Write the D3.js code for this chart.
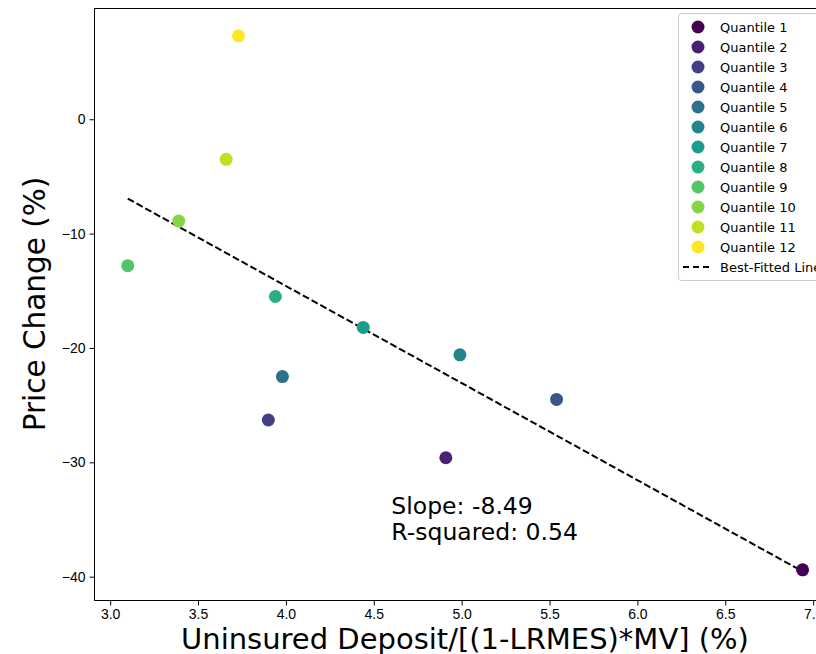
<!DOCTYPE html>
<html>
<head>
  <meta charset="utf-8">
  <title>Price Change vs Uninsured Deposit</title>
  <style>
  body { margin: 0; background: #fff; }
  svg { font-family: "DejaVu Sans", sans-serif; }
  .axis text { font-size: 14px; fill: #000; }
  .axis path, .axis line { stroke: #000; stroke-width: 1; }
  </style>
</head>
<body>
<script src="https://cdnjs.cloudflare.com/ajax/libs/d3/7.8.5/d3.min.js"></script>
<script>
// data
var quantiles = ["Quantile 1", "Quantile 2", "Quantile 3", "Quantile 4", "Quantile 5", "Quantile 6",
                 "Quantile 7", "Quantile 8", "Quantile 9", "Quantile 10", "Quantile 11", "Quantile 12"];
var uninsured = [6.94, 4.91, 3.90, 5.54, 3.98, 4.99, 4.44, 3.94, 3.10, 3.39, 3.66, 3.73];
var priceChange = [-39.4, -29.6, -26.3, -24.5, -22.5, -20.6, -18.2, -15.5, -12.8, -8.9, -3.5, 7.3];
var fitSlope = -8.49, fitIntercept = 19.38, rSquared = 0.54;
var xTicks = [3.0, 3.5, 4.0, 4.5, 5.0, 5.5, 6.0, 6.5, 7.0];
var yTicks = [-40, -30, -20, -10, 0];

// plot box (right edge runs past the window, as in the original)
var W = 816, H = 654;
var box = {left: 94, top: 8, right: 836, bottom: 600};

var svg = d3.select("body").append("svg")
    .attr("width", W)
    .attr("height", H);

var x = d3.scaleLinear().domain([2.908, 7.13]).range([box.left, box.right]);
var y = d3.scaleLinear().domain([-42.04, 9.73]).range([box.bottom, box.top]);

var color = function(i) { return d3.interpolateViridis(i / (quantiles.length - 1)); };

// axes
svg.append("g")
    .attr("class", "axis")
    .attr("transform", "translate(0," + (box.bottom + 0.5) + ")")
    .call(d3.axisBottom(x).tickValues(xTicks).tickFormat(d3.format(".1f")).tickSizeInner(5).tickSizeOuter(0).tickPadding(4))
    .call(function(g) { g.select(".domain").remove(); });

svg.append("g")
    .attr("class", "axis")
    .attr("transform", "translate(" + (box.left + 0.5) + ",0)")
    .call(d3.axisLeft(y).tickValues(yTicks).tickSizeInner(5).tickSizeOuter(0).tickPadding(4))
    .call(function(g) { g.select(".domain").remove(); });

// frame
svg.append("rect")
    .attr("x", box.left + 0.5).attr("y", box.top + 0.5)
    .attr("width", box.right - box.left).attr("height", box.bottom - box.top)
    .attr("fill", "none").attr("stroke", "#000").attr("stroke-width", 1);

// axis labels
svg.append("text")
    .attr("x", (box.left + box.right) / 2).attr("y", 649)
    .attr("text-anchor", "middle")
    .style("font-size", "29px")
    .text("Uninsured Deposit/[(1-LRMES)*MV] (%)");

svg.append("text")
    .attr("transform", "translate(45," + ((box.top + box.bottom) / 2) + ") rotate(-90)")
    .attr("text-anchor", "middle")
    .style("font-size", "29.5px")
    .text("Price Change (%)");

// fitted line
var x0 = d3.min(uninsured), x1 = d3.max(uninsured);
svg.append("line")
    .attr("x1", x(x0)).attr("y1", y(fitIntercept + fitSlope * x0))
    .attr("x2", x(x1)).attr("y2", y(fitIntercept + fitSlope * x1))
    .attr("stroke", "#000").attr("stroke-width", 2)
    .attr("stroke-dasharray", "7,3");

// points
svg.selectAll(".dot")
    .data(quantiles)
  .enter().append("circle")
    .attr("class", "dot")
    .attr("cx", function(d, i) { return x(uninsured[i]); })
    .attr("cy", function(d, i) { return y(priceChange[i]); })
    .attr("r", 6.5)
    .attr("fill", function(d, i) { return color(i); });

// annotation
var ann = svg.append("text")
    .attr("x", x(4.6)).attr("y", 514)
    .style("font-size", "23.5px");
ann.append("tspan").attr("x", x(4.6)).text("Slope: " + fitSlope.toFixed(2));
ann.append("tspan").attr("x", x(4.6)).attr("dy", 26).text("R-squared: " + rSquared.toFixed(2));

// legend
var lg = svg.append("g").attr("transform", "translate(678,13)");
lg.append("rect")
    .attr("x", 0.5).attr("y", 0.5)
    .attr("width", 170).attr("height", 267)
    .attr("rx", 3)
    .attr("fill", "#fff").attr("fill-opacity", 0.8)
    .attr("stroke", "#ccc");

var rows = lg.selectAll(".row")
    .data(quantiles)
  .enter().append("g")
    .attr("class", "row")
    .attr("transform", function(d, i) { return "translate(0," + (14 + i * 20) + ")"; });

rows.append("circle")
    .attr("cx", 20).attr("cy", 0).attr("r", 6.5)
    .attr("fill", function(d, i) { return color(i); });

rows.append("text")
    .attr("x", 42).attr("y", 0).attr("dy", "0.35em")
    .style("font-size", "13px")
    .text(function(d) { return d; });

var fitRow = lg.append("g").attr("transform", "translate(0," + (14 + 12 * 20) + ")");
fitRow.append("line")
    .attr("x1", 5).attr("x2", 33)
    .attr("stroke", "#000").attr("stroke-width", 2)
    .attr("stroke-dasharray", "6,4");
fitRow.append("text")
    .attr("x", 42).attr("y", 0).attr("dy", "0.35em")
    .style("font-size", "13px")
    .text("Best-Fitted Line");
</script>
</body>
</html>
